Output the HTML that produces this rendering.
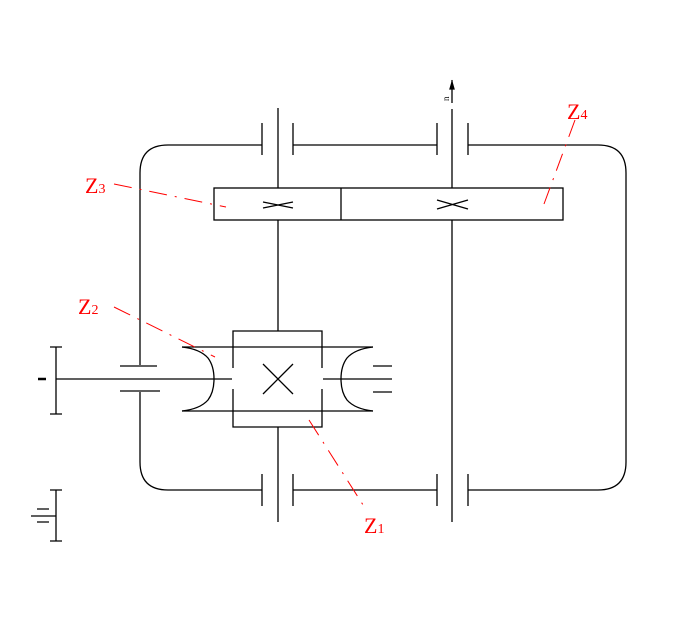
<!DOCTYPE html>
<html><head><style>body{margin:0;background:#fff}svg{display:block}</style></head><body>
<svg width="696" height="632" viewBox="0 0 696 632" xmlns="http://www.w3.org/2000/svg">
<g stroke="#000" stroke-width="1.3" fill="none">
<path d="M140 365 V173 Q140 145 168 145 H262"/>
<path d="M293 145 H437"/>
<path d="M468 145 H598 Q626 145 626 173 V462 Q626 490 598 490 H468"/>
<path d="M437 490 H293"/>
<path d="M262 490 H168 Q140 490 140 462 V392"/>
<path d="M262 123 V155 M293 123 V155 M437 123 V155 M468 123 V155"/>
<path d="M262 474 V506 M293 474 V506 M437 474 V506 M468 474 V506"/>
<path d="M278 108 V188 M278 220 V331 M278 427 V522"/>
<path d="M452 80 V103 M452 109 V188 M452 220 V522"/>
<path d="M452 82 l-2 7 h4 z" fill="#000"/>
<rect x="214" y="188" width="349" height="32"/>
<path d="M341 188 V220"/>
<path d="M263 202 l30 6 M263 208 l30 -6 M437 200 l31 9 M437 209 l31 -9"/>
<path d="M233 368 V331 H322 V368 M233 389 V427 H322 V389"/>
<path d="M263 364 l30 30 M263 394 l30 -30"/>
<path d="M182 347 H373 M182 411 H373"/>
<path d="M182 347 Q200 349 208 358 Q214 366 214 379 Q214 392 208 400 Q200 409 182 411"/>
<path d="M373 347 Q355 349 347 358 Q341 366 341 379 Q341 392 347 400 Q355 409 373 411"/>
<path d="M56 379 H232 M323 379 H392"/>
<path d="M120 366 H157 M120 391 H160 M373 366 H392 M373 392 H392"/>
<path d="M56 347 V414 M50 347 H62 M50 414 H62"/>
<path d="M38 379 H46" stroke-width="2.5"/>
<path d="M56 490 V541 M50 490 H62 M50 541 H62 M31 516 H56 M37 509 H49 M37 522 H49"/>
</g>
<g stroke="red" stroke-width="1" fill="none" stroke-dasharray="18,8,2,8">
<path d="M114 184 L226 207"/>
<path d="M114 307 L215 357"/>
<path d="M309 420 L365 508"/>
<path d="M575 120 L544 204"/>
</g>
<g fill="red" font-family="Liberation Serif, serif">
<text x="85" y="193" font-size="22">Z<tspan font-size="14">3</tspan></text>
<text x="78" y="314" font-size="22">Z<tspan font-size="14">2</tspan></text>
<text x="364" y="533" font-size="22">Z<tspan font-size="14">1</tspan></text>
<text x="567" y="119" font-size="22">Z<tspan font-size="14">4</tspan></text>
</g>
<text x="449" y="101" font-size="9" font-family="Liberation Serif, serif" transform="rotate(-90 449 101)">n</text>
</svg>
</body></html>
